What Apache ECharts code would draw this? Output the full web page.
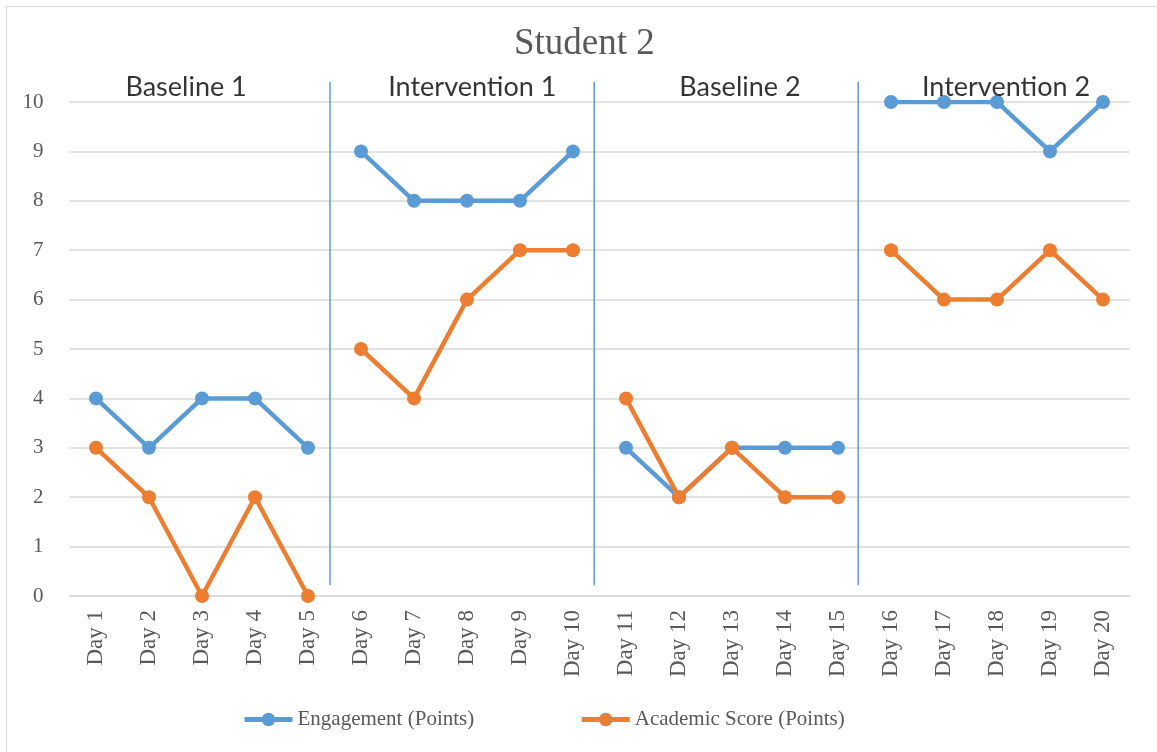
<!DOCTYPE html>
<html>
<head>
<meta charset="utf-8">
<script src="https://cdn.jsdelivr.net/npm/echarts@6/dist/echarts.min.js"></script>
<style>
html,body{margin:0;padding:0;background:#fff;}
#frame{position:absolute;left:6px;top:6px;width:1160px;height:760px;border:1px solid #d9d9d9;box-sizing:border-box;}
#chart{position:absolute;left:0;top:0;width:1157px;height:752px;}
</style>
</head>
<body>
<div id="frame"></div>
<div id="chart"></div>
<script>
const days = ['Day 1','Day 2','Day 3','Day 4','Day 5','Day 6','Day 7','Day 8','Day 9','Day 10',
  'Day 11','Day 12','Day 13','Day 14','Day 15','Day 16','Day 17','Day 18','Day 19','Day 20'];
const engagement = [4,3,4,4,3, 9,8,8,8,9, 3,2,3,3,3, 10,10,10,9,10];
const academic   = [3,2,0,2,0, 5,4,6,7,7, 4,2,3,2,2, 7,6,6,7,6];
const phaseNames = ['Baseline 1','Intervention 1','Baseline 2','Intervention 2'];
const phaseStarts = [0,5,10,15];
const phaseEnds = [5,10,15,20];
const dividerPositions = [4.915, 9.9, 14.88];
const phaseLabelAnchors = [2.2, 7.6, 12.65, 17.67];
const yTicks = [0,1,2,3,4,5,6,7,8,9,10];

const BLUE = '#5B9BD5', ORANGE = '#ED7D31';

function phaseSeries(name, values, color) {
  return phaseStarts.map((s, i) => ({
    name: name,
    type: 'line',
    xAxisIndex: 0,
    yAxisIndex: 0,
    data: values.map((v, k) => (k >= s && k < phaseEnds[i]) ? v : '-'),
    symbol: 'circle',
    symbolSize: 14,
    connectNulls: false,
    lineStyle: { width: 4.5, color: color },
    itemStyle: { color: color },
    emphasis: { disabled: true },
    z: name.startsWith('Academic') ? 3 : 2
  }));
}

const dividerSeries = dividerPositions.map(x => ({
  name: 'divider',
  type: 'line',
  xAxisIndex: 1,
  yAxisIndex: 0,
  clip: false,
  silent: true,
  symbol: 'none',
  lineStyle: { color: BLUE, width: 1.5 },
  data: [[x, 0.22], [x, 10.41]],
  z: 1
}));

const phaseLabelSeries = {
  name: 'phaseLabels',
  type: 'scatter',
  xAxisIndex: 1,
  yAxisIndex: 0,
  clip: false,
  silent: true,
  symbolSize: 1,
  itemStyle: { color: 'rgba(0,0,0,0)' },
  data: phaseNames.map((n, i) => ({ value: [phaseLabelAnchors[i], 10.3], name: n })),
  label: {
    show: true,
    position: 'inside',
    formatter: p => p.name,
    fontFamily: 'Lato',
    fontSize: 27,
    color: '#000'
  },
  z: 5
};

const chart = echarts.init(document.getElementById('chart'), null, { renderer: 'canvas' });
chart.setOption({
  animation: false,
  backgroundColor: 'transparent',
  title: {
    text: 'Student 2',
    left: 509,
    top: 21,
    textStyle: { fontFamily: 'Liberation Serif', fontSize: 37, fontWeight: 'normal', color: '#595959' }
  },
  grid: { left: 69.5, right: 27.5, top: 102, bottom: 156, containLabel: false },
  legend: {
    data: ['Engagement (Points)', 'Academic Score (Points)'],
    top: 704,
    left: 237,
    itemWidth: 48,
    itemHeight: 17,
    itemGap: 105,
    lineStyle: { width: 5 },
    textStyle: { fontFamily: 'Liberation Serif', fontSize: 21, color: '#595959' }
  },
  xAxis: [{
    type: 'category',
    data: days,
    boundaryGap: true,
    axisLine: { show: true, lineStyle: { color: '#d9d9d9', width: 1.5 } },
    axisTick: { show: false },
    axisLabel: { rotate: 90, margin: 14, fontFamily: 'Liberation Serif', fontSize: 23, color: '#595959', interval: 0 },
    splitLine: { show: false }
  }, {
    type: 'value',
    min: 0,
    max: 20,
    show: false
  }],
  yAxis: [{
    type: 'value',
    min: yTicks[0],
    max: yTicks[yTicks.length - 1],
    interval: 1,
    axisLine: { show: false },
    axisTick: { show: false },
    axisLabel: { margin: 26, fontFamily: 'Liberation Serif', fontSize: 21, color: '#595959' },
    splitLine: { show: true, lineStyle: { color: '#d9d9d9', width: 1.5 } }
  }],
  series: [
    ...dividerSeries,
    ...phaseSeries('Engagement (Points)', engagement, BLUE),
    ...phaseSeries('Academic Score (Points)', academic, ORANGE),
    phaseLabelSeries
  ]
});
</script>
</body>
</html>
